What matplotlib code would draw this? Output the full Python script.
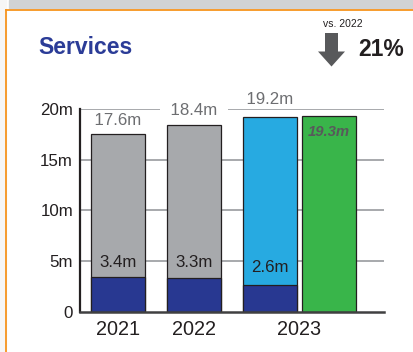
import numpy as np
import matplotlib
matplotlib.use("Agg")
import matplotlib.pyplot as plt
from matplotlib.patches import Rectangle, FancyArrow

plt.rcParams['font.family'] = ['Liberation Sans', 'DejaVu Sans']

# Services revenue by year (millions)
years = ["2021", "2022", "2023"]
totals = [17.6, 18.4, 19.2]
base = [3.4, 3.3, 2.6]
forecast_2023 = 19.3
change_pct = 21
compare_year = "2022"

# colours
GREY = "#a7a9ac"
NAVY = "#283891"
CYAN = "#27aae1"
GREEN = "#39b54a"
DARK = "#231f20"
MID = "#58595b"

fig = plt.figure(figsize=(4.14, 3.52), dpi=100)

# panel chrome: grey band on top, orange frame
fig.patches.append(Rectangle((9 / 414, 1 - 8 / 352), 1, 8 / 352, transform=fig.transFigure,
                             color="#d1d3d4", zorder=0))
fig.patches.append(Rectangle((0, 0), 6 / 414, 1, transform=fig.transFigure,
                             color="#f6f6f6", zorder=0))
fig.lines.append(plt.Line2D([6.5 / 414, 6.5 / 414], [0, 1 - 9.5 / 352], transform=fig.transFigure,
                            color="#f7941d", lw=1.3))
fig.lines.append(plt.Line2D([6.5 / 414, 1], [1 - 9.5 / 352, 1 - 9.5 / 352], transform=fig.transFigure,
                            color="#f7941d", lw=1.3))

fig.text(38 / 414, 1 - 47 / 352, "Services", color="#2b3c97", fontsize=16.5,
         fontweight="bold", ha="left", va="center")
fig.text(343 / 414, 1 - 24 / 352, "vs. " + compare_year, color=DARK, fontsize=7.5,
         ha="center", va="center", fontstretch="condensed")
fig.text(381 / 414, 1 - 50 / 352, f"{change_pct}%", color=DARK, fontsize=16.5,
         fontweight="bold", ha="center", va="center")
fig.patches.append(FancyArrow(331.5 / 414, 1 - 33 / 352, 0, -33.5 / 352, width=13 / 414,
                              head_width=27 / 414, head_length=15 / 352,
                              length_includes_head=True, transform=fig.transFigure,
                              color=MID, lw=0))

ax = fig.add_axes([80 / 414, 1 - 311.7 / 352, 304 / 414, 202.4 / 352])

x = np.array([0.0, 1.0, 2.0])
w = 0.72
green_x = 2.776

ax.bar(x[:2], totals[:2], w, color=GREY, edgecolor=DARK, linewidth=0.9, zorder=2)
ax.bar(x[2], totals[2], w, color=CYAN, edgecolor=DARK, linewidth=0.9, zorder=2)
ax.bar(x, base, w, color=NAVY, edgecolor=DARK, linewidth=0.9, zorder=3)
ax.bar(green_x, forecast_2023, w, color=GREEN, edgecolor=DARK, linewidth=0.9, zorder=2)

# value labels above the bars; a label sitting on a gridline gets a white box
# (padded with spaces) to knock the line out
top_off = [9.4, 10.8, 12.9]
for xi, v, off in zip(x, totals, top_off):
    on_grid = abs(v + off / 72 * 100 / 10.12 - 20) < 0.6
    ax.annotate(f"  {v}m  ", (xi, v), xytext=(0, off), textcoords="offset points",
                ha="center", va="center", fontsize=12.2, color="#6d6e71",
                bbox=dict(boxstyle="square,pad=0.05", fc="white", ec="none") if on_grid else None,
                annotation_clip=False, zorder=5)

inner_off = [11, 11.5, 12.8]
for xi, v, off in zip(x, base, inner_off):
    ax.annotate(f"{v}m", (xi, v), xytext=(0, off), textcoords="offset points",
                ha="center", va="center", fontsize=12.2, color=DARK, zorder=5)

ax.annotate(f"{forecast_2023}m", (green_x, forecast_2023), xytext=(0, -11.5),
            textcoords="offset points", ha="center", va="center", fontsize=10.7,
            color=MID, fontweight="bold", fontstyle="italic", zorder=5)

ax.set_xlim(-0.5, 3.5)
ax.set_ylim(0, 20)
ax.set_yticks([0, 5, 10, 15, 20])
ax.set_yticklabels(["0", "5m", "10m", "15m", "20m"], fontsize=12.2, color=DARK)
ax.set_xticks([x[0], x[1], (x[2] + green_x) / 2])
ax.set_xticklabels(years, fontsize=14.3, color=DARK)
ax.tick_params(axis="y", length=0, pad=5)
ax.tick_params(axis="x", length=0, pad=6)

for yv in [5, 10, 15, 20]:
    ax.axhline(yv, color="#a7a9ac", lw=1.4, zorder=1)

ax.spines["top"].set_visible(False)
ax.spines["right"].set_visible(False)
ax.spines["left"].set_linewidth(1.6)
ax.spines["left"].set_color(DARK)
ax.spines["bottom"].set_linewidth(1.8)
ax.spines["bottom"].set_color("#404041")
ax.spines["left"].set_zorder(4)
ax.spines["bottom"].set_zorder(4)

fig.savefig("out.png", dpi=100)
